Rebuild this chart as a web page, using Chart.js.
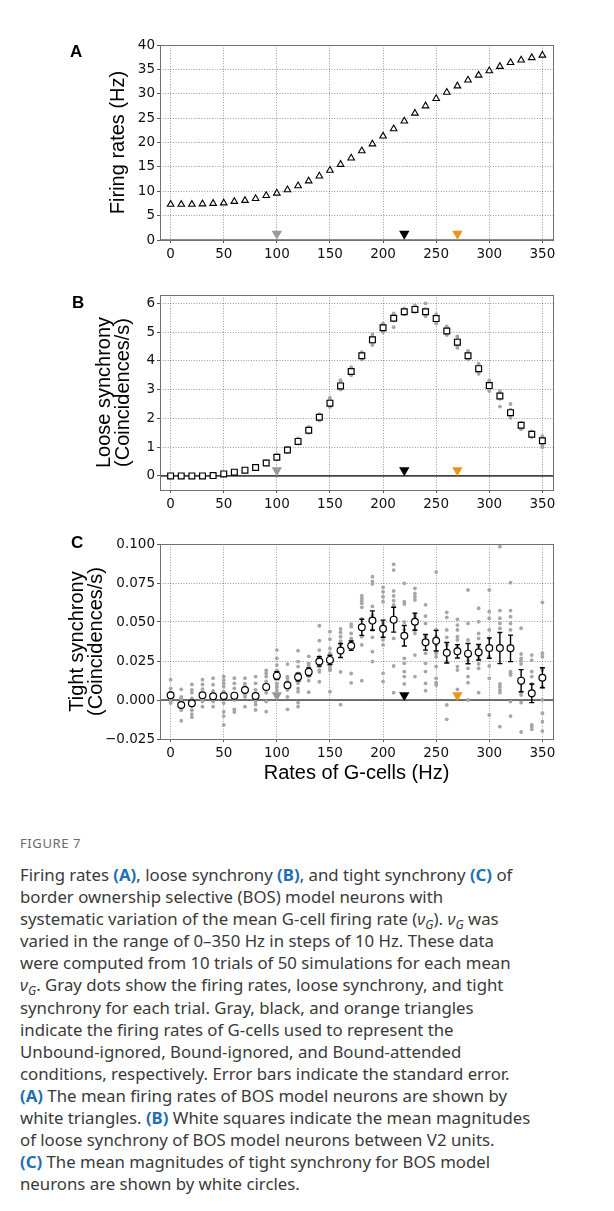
<!DOCTYPE html>
<html>
<head>
<meta charset="utf-8">
<script src="https://cdn.jsdelivr.net/npm/chart.js@4.4.1/dist/chart.umd.min.js"></script>
<style>
  body { margin: 0; background: #fff; width: 614px; height: 1211px; position: relative; overflow: hidden; }
  canvas { position: absolute; left: 0; }
  .fig { position: absolute; left: 20px; top: 834px; font: 13px "Noto Sans", sans-serif; letter-spacing: 0.6px; color: #6b6b6b; }
  .cap { position: absolute; left: 20px; top: 864px; font: 16.8px/22.1px "Noto Sans", sans-serif; color: #3a3a3a; white-space: nowrap; }
  .cap b { color: #1f6fb2; }
  .cap sub { font-size: 0.72em; line-height: 0; vertical-align: -0.3em; }
</style>
</head>
<body>
<canvas id="panelA" width="614" height="265" style="top:0px"></canvas>
<canvas id="panelB" width="614" height="245" style="top:265px"></canvas>
<canvas id="panelC" width="614" height="290" style="top:510px"></canvas>

<div class="fig">FIGURE 7</div>
<div class="cap">
Firing rates <b>(A)</b>, loose synchrony <b>(B)</b>, and tight synchrony <b>(C)</b> of<br>
border ownership selective (BOS) model neurons with<br>
systematic variation of the mean G-cell firing rate (<i>ν</i><sub><i>G</i></sub>). <i>ν</i><sub><i>G</i></sub> was<br>
varied in the range of 0–350 Hz in steps of 10 Hz. These data<br>
were computed from 10 trials of 50 simulations for each mean<br>
<i>ν</i><sub><i>G</i></sub>. Gray dots show the firing rates, loose synchrony, and tight<br>
synchrony for each trial. Gray, black, and orange triangles<br>
indicate the firing rates of G-cells used to represent the<br>
Unbound-ignored, Bound-ignored, and Bound-attended<br>
conditions, respectively. Error bars indicate the standard error.<br>
<b>(A)</b> The mean firing rates of BOS model neurons are shown by<br>
white triangles. <b>(B)</b> White squares indicate the mean magnitudes<br>
of loose synchrony of BOS model neurons between V2 units.<br>
<b>(C)</b> The mean magnitudes of tight synchrony for BOS model<br>
neurons are shown by white circles.
</div>

<script>
// G-cell rates (Hz)
const rates = [0, 10, 20, 30, 40, 50, 60, 70, 80, 90, 100, 110, 120, 130, 140, 150, 160, 170,
  180, 190, 200, 210, 220, 230, 240, 250, 260, 270, 280, 290, 300, 310, 320, 330, 340, 350];

const xTickValues = [0, 50, 100, 150, 200, 250, 300, 350];
const firingTicks = [0, 5, 10, 15, 20, 25, 30, 35, 40];
const looseTicks = [0, 1, 2, 3, 4, 5, 6];
const tightTicks = [-0.025, 0, 0.025, 0.05, 0.075, 0.1];

// condition markers (Unbound-ignored, Bound-ignored, Bound-attended)
const conditionRates = [100, 220, 270];
const conditionColors = ['#9a9a9a', '#000000', '#e8951c'];

// A: mean firing rates (Hz)
const firingMean = [7.3, 7.3, 7.3, 7.4, 7.5, 7.6, 7.9, 8.1, 8.5, 9.1, 9.6, 10.3, 11.1, 12.1, 13.1, 14.3, 15.5, 16.8,
  18.3, 19.7, 21.3, 22.8, 24.4, 26.0, 27.5, 29.0, 30.3, 31.6, 32.8, 33.8, 34.7, 35.6, 36.4, 36.9, 37.4, 37.9];

// B: loose synchrony, mean and visible trials
const looseMean = [0.0, 0.0, 0.0, 0.0, 0.01, 0.07, 0.13, 0.2, 0.29, 0.45, 0.65, 0.9, 1.2, 1.59, 2.04, 2.53, 3.13, 3.63,
  4.18, 4.73, 5.15, 5.48, 5.71, 5.79, 5.71, 5.47, 5.04, 4.65, 4.18, 3.73, 3.14, 2.78, 2.2, 1.76, 1.45, 1.22];
const looseTrials = [
  [0, 0.01, 0.02, 0], [0, 0.01, 0.02, 0.01], [0.01, 0, 0.02, 0.01], [0.01, 0.02, 0, 0.03],
  [0.02, 0.01, 0.03, 0], [0.06, 0.09, 0.05, 0.1], [0.12, 0.15, 0.1, 0.17], [0.18, 0.22, 0.16, 0.25],
  [0.27, 0.32, 0.25, 0.35], [0.42, 0.48, 0.4, 0.52], [0.6, 0.7, 0.58, 0.74], [0.85, 0.95, 0.82, 0.98],
  [1.15, 1.25, 1.12, 1.3], [1.52, 1.65, 1.5, 1.7], [1.97, 2.1, 1.93, 2.15], [2.42, 2.65, 2.4, 2.72],
  [3.02, 3.25, 3.0, 3.33], [3.55, 3.7, 3.5, 3.78], [4.1, 4.27, 4.05, 4.3], [4.6, 4.85, 4.55, 4.92],
  [5.05, 5.25, 5.0, 5.3], [5.17, 5.6, 5.4, 5.65], [5.65, 5.78, 5.62, 5.82], [5.7, 5.88, 5.72, 5.93],
  [5.6, 5.8, 5.55, 6.0], [5.35, 5.58, 5.3, 5.62], [4.95, 5.15, 4.9, 5.2], [4.5, 4.8, 4.45, 4.85],
  [4.08, 4.3, 4.05, 4.35], [3.6, 3.85, 3.55, 3.9], [3.0, 3.25, 2.95, 3.32], [2.41, 2.68, 2.88, 2.95],
  [2.08, 2.3, 2.02, 2.5], [1.65, 1.85, 1.62, 1.7], [1.38, 1.52, 1.35, 1.55], [1.05, 1.32, 1.0, 1.38]
];

// C: tight synchrony, mean, standard error and trials
const tightMean = [0.0030, -0.0032, -0.0021, 0.0030, 0.0024, 0.0026, 0.0028, 0.0064, 0.0026, 0.0084, 0.0156, 0.0094,
  0.0147, 0.0180, 0.0247, 0.0257, 0.0317, 0.0348, 0.0466, 0.0509, 0.0457, 0.0515, 0.0412, 0.0502,
  0.0370, 0.0380, 0.0303, 0.0312, 0.0297, 0.0306, 0.0333, 0.0333, 0.0331, 0.0124, 0.0043, 0.0143];
const tightSE = [0.0015, 0.0015, 0.0015, 0.0012, 0.0010, 0.0015, 0.0010, 0.0010, 0.0010, 0.0015, 0.0025, 0.0015,
  0.0025, 0.0025, 0.0030, 0.0030, 0.0045, 0.0030, 0.0052, 0.0062, 0.0055, 0.0080, 0.0066, 0.0055,
  0.0050, 0.0066, 0.0066, 0.0043, 0.0065, 0.0050, 0.0065, 0.0100, 0.0085, 0.0071, 0.0060, 0.0064];
const tightTrials = [
  [0.013, 0.0075, 0.005, 0.003, 0.0015, 0.0, -0.001, -0.002, 0.004, 0.002],
  [0.0068, 0.002, 0.001, -0.001, -0.0025, -0.004, -0.0065, -0.0133, -0.005, -0.003],
  [0.010, 0.0065, 0.0047, 0.001, -0.002, -0.004, -0.0065, -0.009, -0.011, -0.003],
  [0.013, 0.010, 0.007, 0.0036, 0.001, -0.001, -0.0043, 0.002, 0.0, 0.004],
  [0.014, 0.0098, 0.0058, 0.0036, 0.0015, -0.001, -0.0043, 0.002, 0.0, 0.003],
  [0.015, 0.0128, 0.0107, 0.0085, 0.0053, 0.0026, -0.002, -0.0075, -0.0103, -0.016],
  [0.014, 0.0107, 0.0075, 0.0038, 0.002, -0.006, -0.0077, 0.003, 0.001, 0.0],
  [0.014, 0.0105, 0.0064, 0.0032, 0.002, -0.0043, 0.009, 0.008, 0.007, 0.008],
  [0.015, 0.0107, 0.0064, 0.002, -0.003, -0.0064, 0.004, 0.001, 0.0, -0.001],
  [0.019, 0.017, 0.015, 0.0085, 0.0047, -0.001, -0.0075, 0.012, 0.010, 0.007],
  [0.032, 0.0267, 0.0224, 0.019, 0.017, 0.015, 0.0107, 0.009, 0.008, 0.006],
  [0.023, 0.015, 0.0117, 0.0064, 0.002, -0.006, 0.014, 0.012, 0.010, 0.008],
  [0.0316, 0.0246, 0.0214, 0.017, 0.015, 0.0107, 0.0075, 0.0053, -0.0017, -0.0043],
  [0.028, 0.0235, 0.0197, 0.017, 0.015, 0.0124, 0.005, 0.018, 0.020, 0.022],
  [0.0476, 0.038, 0.032, 0.0278, 0.0246, 0.0229, 0.0214, 0.0117, 0.019, 0.018],
  [0.0438, 0.039, 0.033, 0.030, 0.0256, 0.0235, 0.0214, 0.0053, 0.019, 0.020],
  [0.0455, 0.0432, 0.0406, 0.0378, 0.0353, 0.032, 0.030, 0.018, -0.003, 0.036],
  [0.0487, 0.047, 0.0427, 0.0395, 0.0363, 0.017, 0.011, 0.035, 0.033, 0.038],
  [0.0669, 0.0652, 0.0637, 0.062, 0.0594, 0.047, 0.0406, 0.0353, 0.0124, 0.052],
  [0.079, 0.0759, 0.0744, 0.0545, 0.0513, 0.0449, 0.0402, 0.031, 0.0246, 0.060],
  [0.0722, 0.0694, 0.0662, 0.063, 0.0491, 0.0449, 0.0385, 0.0353, 0.0171, 0.0118],
  [0.087, 0.0833, 0.0699, 0.0667, 0.0637, 0.0609, 0.0513, 0.0395, 0.0218, 0.0047],
  [0.0748, 0.063, 0.0615, 0.0267, 0.0235, 0.0182, 0.015, 0.0103, 0.050, 0.045],
  [0.0716, 0.0684, 0.0662, 0.0641, 0.0534, 0.0449, 0.0427, 0.0288, 0.015, 0.055],
  [0.061, 0.0538, 0.0491, 0.0406, 0.0363, 0.0299, 0.0235, 0.0182, 0.0107, 0.006],
  [0.082, 0.0449, 0.0406, 0.0353, 0.0278, 0.0214, 0.0139, 0.0111, 0.0096, 0.030],
  [0.0562, 0.053, 0.0449, 0.0402, 0.0353, 0.032, 0.0246, -0.0032, -0.0124, 0.030],
  [0.0517, 0.048, 0.0449, 0.0406, 0.0385, 0.0342, 0.0299, 0.0214, 0.0192, 0.0068],
  [0.0705, 0.0491, 0.0385, 0.0278, 0.0252, 0.0203, 0.015, 0.0111, 0.0, 0.030],
  [0.0588, 0.0502, 0.0427, 0.0395, 0.0342, 0.0231, 0.0203, 0.0047, 0.028, 0.026],
  [0.0705, 0.0566, 0.0524, 0.0449, 0.0395, 0.0278, 0.0218, 0.0139, -0.0096, 0.035],
  [0.0983, 0.0573, 0.0524, 0.0491, 0.0459, 0.0103, 0.0085, 0.0064, 0.0047, -0.0171],
  [0.0752, 0.0573, 0.0534, 0.0491, 0.0449, 0.0182, 0.0171, 0.016, -0.001, -0.0103],
  [0.046, 0.0295, 0.0267, 0.0252, 0.0231, 0.0107, 0.0032, -0.0017, -0.0205, 0.005],
  [0.0288, 0.0256, 0.0182, 0.015, 0.0103, 0.0026, -0.016, -0.0171, -0.0188, 0.005],
  [0.0626, 0.0278, 0.0192, 0.0085, 0.0, -0.0085, -0.0139, -0.0199, 0.020, 0.030]
];

Chart.defaults.font.family = '"DejaVu Sans", sans-serif';
Chart.defaults.color = '#111';

const GRID = 'rgba(0,0,0,0.5)';
const DOT = '#a6a6a6';

// spines, panel letter and axis titles
const decor = {
  id: 'decor',
  beforeDatasetDraw(chart, args, o) {
    // error bars just under the mean markers
    if (!o.err || args.index !== o.err.index) return;
    const { ctx, scales: { x, y } } = chart;
    ctx.save();
    ctx.strokeStyle = '#000';
    ctx.lineWidth = 1.4;
    o.err.mean.forEach((m, i) => {
      const px = x.getPixelForValue(rates[i]);
      const lo = y.getPixelForValue(m - o.err.se[i]);
      const hi = y.getPixelForValue(m + o.err.se[i]);
      ctx.beginPath();
      ctx.moveTo(px, lo); ctx.lineTo(px, hi);
      ctx.moveTo(px - 2.5, lo); ctx.lineTo(px + 2.5, lo);
      ctx.moveTo(px - 2.5, hi); ctx.lineTo(px + 2.5, hi);
      ctx.stroke();
    });
    ctx.restore();
  },
  afterDraw(chart, args, o) {
    const { ctx, chartArea: a } = chart;
    ctx.save();
    ctx.strokeStyle = '#707070';
    ctx.lineWidth = 1;
    ctx.strokeRect(Math.round(a.left) + 0.5, Math.round(a.top) + 0.5,
      Math.round(a.right - a.left), Math.round(a.bottom - a.top));
    ctx.fillStyle = '#000';
    ctx.textAlign = 'left';
    ctx.textBaseline = 'alphabetic';
    ctx.font = 'bold 17px "Liberation Sans", sans-serif';
    ctx.fillText(o.letter, o.letterX, o.letterY);
    ctx.font = '20px "Liberation Sans", sans-serif';
    ctx.textAlign = 'center';
    ctx.textBaseline = 'middle';
    o.ytitle.forEach((t, i) => {
      ctx.save();
      ctx.translate(o.ytitleX[i], (a.top + a.bottom) / 2);
      ctx.rotate(-Math.PI / 2);
      ctx.fillText(t, 0, 0);
      ctx.restore();
    });
    if (o.xtitle) ctx.fillText(o.xtitle, (a.left + a.right) / 2, o.xtitleY);
    ctx.restore();
  }
};

function conditionSet(yVal) {
  return {
    data: conditionRates.map(r => ({ x: r, y: yVal })),
    pointStyle: 'triangle', pointRotation: 180, pointRadius: 6,
    backgroundColor: conditionColors, borderColor: conditionColors, borderWidth: 0,
    clip: false, order: 3
  };
}

function zeroSet(color, width) {
  return {
    data: [{ x: -10, y: 0 }, { x: 360, y: 0 }],
    showLine: true, pointRadius: 0, borderColor: color, borderWidth: width,
    order: 5
  };
}

function makePanel(id, p) {
  const canvas = document.getElementById(id);
  const H = canvas.height;
  new Chart(canvas.getContext('2d'), {
    type: 'scatter',
    data: { datasets: p.datasets },
    plugins: [decor],
    options: {
      responsive: false,
      animation: false,
      devicePixelRatio: 1,
      events: [],
      layout: { padding: { top: p.areaTop, right: 61, left: 0, bottom: 0 } },
      plugins: { legend: { display: false }, tooltip: { enabled: false }, decor: p.decor },
      scales: {
        x: {
          type: 'linear', min: -10, max: 360,
          afterBuildTicks: s => { s.ticks = xTickValues.map(v => ({ value: v })); },
          afterFit: s => { s.height = H - p.areaBottom; },
          ticks: { autoSkip: false, maxRotation: 0, padding: 3, font: { size: 13.5 }, color: '#111' },
          grid: { color: GRID, lineWidth: 0.8, tickColor: '#555', tickLength: 3, tickWidth: 1 },
          border: { display: false, dash: [1, 1.6] }
        },
        y: {
          type: 'linear', min: p.ymin, max: p.ymax,
          afterBuildTicks: s => { s.ticks = p.yTicks.map(v => ({ value: v })); },
          afterFit: s => { s.width = 160; },
          ticks: { autoSkip: false, padding: 2, font: { size: 13.5 }, color: '#111', callback: p.yFmt },
          grid: { color: GRID, lineWidth: 0.8, tickColor: '#555', tickLength: 3, tickWidth: 1 },
          border: { display: false, dash: [1, 1.6] }
        }
      }
    }
  });
}

// Panel A
makePanel('panelA', {
  areaTop: 45, areaBottom: 240, ymin: 0, ymax: 40, yTicks: firingTicks,
  yFmt: v => String(v),
  decor: { letter: 'A', letterX: 70, letterY: 57, ytitle: ['Firing rates (Hz)'], ytitleX: [118] },
  datasets: [
    {
      data: rates.map((r, i) => ({ x: r, y: firingMean[i] })),
      pointStyle: 'triangle', pointRadius: 3.8, backgroundColor: '#fff', borderColor: '#000', borderWidth: 1.1,
      clip: false, order: 1
    },
    conditionSet(1.3),
    zeroSet('#8a8a8a', 2)
  ]
});

// Panel B
makePanel('panelB', {
  areaTop: 30, areaBottom: 225, ymin: -0.49, ymax: 6.29, yTicks: looseTicks,
  yFmt: v => String(v),
  decor: { letter: 'B', letterX: 72, letterY: 43, ytitle: ['Loose synchrony', '(Coincidences/s)'], ytitleX: [104, 123] },
  datasets: [
    {
      data: rates.map((r, i) => ({ x: r, y: looseMean[i] })),
      pointStyle: 'rect', pointRadius: 4.1, backgroundColor: '#fff', borderColor: '#000', borderWidth: 1.2,
      clip: false, order: 1
    },
    {
      data: rates.flatMap((r, i) => looseTrials[i].map(v => ({ x: r, y: v }))),
      pointRadius: 1.9, backgroundColor: DOT, borderWidth: 0, order: 4
    },
    conditionSet(0.2),
    zeroSet('#444', 1.6)
  ]
});

// Panel C
makePanel('panelC', {
  areaTop: 34, areaBottom: 229, ymin: -0.025, ymax: 0.1, yTicks: tightTicks,
  yFmt: v => (v < 0 ? '\u2212' : '') + Math.abs(v).toFixed(3),
  decor: {
    letter: 'C', letterX: 71, letterY: 38, ytitle: ['Tight synchrony', '(Coincidences/s)'], ytitleX: [77, 96],
    xtitle: 'Rates of G-cells (Hz)', xtitleY: 263,
    err: { index: 0, mean: tightMean, se: tightSE }
  },
  datasets: [
    {
      data: rates.map((r, i) => ({ x: r, y: tightMean[i] })),
      pointStyle: 'circle', pointRadius: 3.4, backgroundColor: '#fff', borderColor: '#000', borderWidth: 1.2,
      clip: false, order: 1
    },
    {
      data: rates.flatMap((r, i) => tightTrials[i].map(v => ({ x: r, y: v }))),
      pointRadius: 1.9, backgroundColor: DOT, borderWidth: 0, order: 4
    },
    conditionSet(0.003),
    zeroSet('#444', 1.6)
  ]
});
</script>
</body>
</html>
